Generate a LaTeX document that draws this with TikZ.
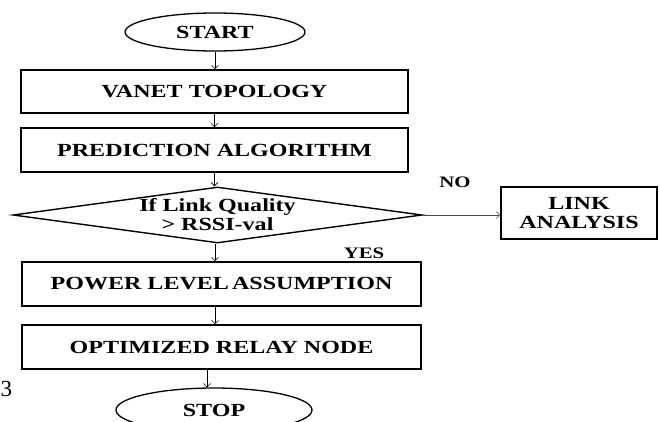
\documentclass[tikz,border=0pt]{standalone}
\usepackage{fontspec}
\setmainfont{Liberation Serif}[FakeStretch=1.3]
\newfontfamily\plainserif{Liberation Serif}
\usetikzlibrary{shapes.geometric,arrows.meta}

\tikzset{
  procbox/.style={draw, line width=1.6pt, rectangle, inner sep=0pt,
    font=\fontsize{18.5}{21}\selectfont\bfseries, align=center},
  terminal/.style={draw, line width=1.3pt, ellipse, inner sep=0pt,
    font=\fontsize{18.5}{21}\selectfont\bfseries},
  decision/.style={draw, line width=1.4pt, diamond, inner sep=0pt, shape aspect=7.3,
    font=\fontsize{18.5}{21}\selectfont\bfseries, align=center},
  flow/.style={line width=0.6pt, -{Straight Barb[length=3.5pt,width=7pt,line width=0.6pt]}},
  branch/.style={font=\fontsize{16}{18}\selectfont\bfseries}
}

\begin{document}
\begin{tikzpicture}[x=1pt,y=-1pt]
  \useasboundingbox (0,0) rectangle (660,421);

  % terminals
  \node[terminal, minimum width=180pt, minimum height=38pt] (start) at (215,32) {START};
  \node[terminal, minimum width=196pt, minimum height=44pt] (stop) at (214,410) {STOP};

  % process steps
  \node[procbox, minimum width=387pt, minimum height=43pt] (topo) at (214.5,91.5) {VANET TOPOLOGY};
  \node[procbox, minimum width=387pt, minimum height=44pt] (pred) at (214.5,150) {PREDICTION ALGORITHM};
  \node[decision, minimum width=409pt, minimum height=56pt] (dec) at (217.5,215)
    {If Link Quality\\[-2pt] {>} RSSI-val};
  \node[procbox, minimum width=156pt, minimum height=52pt] (link) at (579,213)
    {LINK\\[-2pt] ANALYSIS};
  \node[procbox, minimum width=399pt, minimum height=44pt] (power) at (221.5,284)
    {POWER LEVEL\hspace{-3pt} ASSUMPTION};
  \node[procbox, minimum width=399pt, minimum height=44pt] (relay) at (221.5,347)
    {OPTIMIZED RELAY NODE};

  % branch labels
  \node[branch] (no) at (455,182) {NO};
  \node[branch] (yes) at (364,253) {YES};

  % numeral at the left margin
  \node[font=\plainserif\fontsize{23}{24}\selectfont, inner sep=0pt] (num) at (6.5,389) {3};

  % connectors
  \draw[flow] (start.south) -- (start.south |- topo.north);
  \draw[flow] (topo.south) -- (topo.south |- pred.north);
  \draw[flow] (pred.south) -- (pred.south |- dec.north);
  \draw[flow, draw=black!70] (dec.east) -- (dec.east -| link.west);
  \draw[flow] ([xshift=-2.5pt]dec.south) -- ([xshift=-2.5pt]dec.south |- power.north);
  \draw[flow] ([xshift=-6.5pt]power.south) -- ([xshift=-6.5pt]power.south |- relay.north);
  \draw[flow] ([xshift=-14.5pt]relay.south) -- ([xshift=-14.5pt]relay.south |- stop.north);
\end{tikzpicture}
\end{document}
